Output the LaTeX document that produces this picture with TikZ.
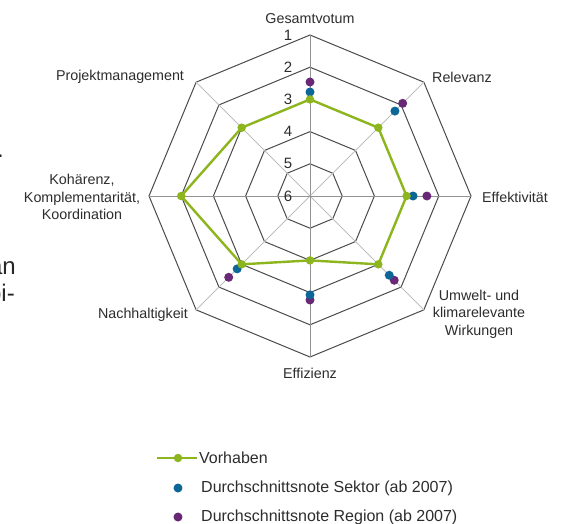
\documentclass[tikz,border=0pt]{standalone}
\usepackage{fontspec}
\setmainfont{Liberation Sans}
\definecolor{vorhaben}{RGB}{141,182,30}
\definecolor{sektor}{RGB}{12,102,152}
\definecolor{region}{RGB}{104,40,118}
\definecolor{gitter}{RGB}{75,75,75}
\definecolor{schrift}{RGB}{45,45,45}
\tikzset{
  ring/.style={draw=gitter, line width=1pt, line join=miter},
  achse/.style={draw=gray!85, line width=0.9pt},
  diagachse/.style={draw=gray!50, line width=0.8pt},
  achsentext/.style={text=schrift, font=\fontsize{14.3}{17.5}\selectfont, align=center, inner sep=0pt},
  stufe/.style={text=schrift, font=\fontsize{15}{17}\selectfont, inner sep=0pt},
  legtext/.style={text=schrift, font=\fontsize{16}{18}\selectfont, anchor=west, inner sep=0pt},
  randtext/.style={text=black!85, font=\fontsize{24}{28}\selectfont, anchor=east, inner sep=0pt},
  vlinie/.style={draw=vorhaben, line width=2.4pt, line join=round},
  vpunkt/.style={circle, fill=vorhaben, inner sep=0pt, minimum size=8.5pt},
  spunkt/.style={circle, fill=sektor, inner sep=0pt, minimum size=9pt},
  rpunkt/.style={circle, fill=region, inner sep=0pt, minimum size=9pt},
}

\begin{document}
\begin{tikzpicture}[x=1pt, y=1pt]
\useasboundingbox[fill=white] (-310,-327) rectangle (251,196);

\coordinate (m) at (0,0);
\foreach \n/\w in {1/90, 2/45, 3/0, 4/-45, 5/-90, 6/-135, 7/180, 8/135}
  \coordinate (a\n) at (\w:161);

\foreach \k in {1,...,5}{
  \pgfmathsetmacro\rad{(6-\k)*32.2}
  \draw[ring] (90:\rad) \foreach \w in {45,0,...,-225}{ -- (\w:\rad)} -- cycle;
}
\foreach \n in {2,4,6,8}
  \draw[diagachse] (m) -- (a\n);
\foreach \n in {1,3,5,7}
  \draw[achse] (m) -- (a\n);

\foreach \k in {1,...,6}
  \node[stufe] (s\k) at (-22,{(6-\k)*32.2}) {\k};

\node[achsentext] (gesamt) at (0,177) {Gesamtvotum};
\node[achsentext] (relevanz) at (152,119) {Relevanz};
\node[achsentext] (effekt) at (205,-1) {Effektivität};
\node[achsentext] (umwelt) at (169,-118) {Umwelt- und\\klimarelevante\\Wirkungen};
\node[achsentext] (effizienz) at (0,-177) {Effizienz};
\node[achsentext] (nachhalt) at (-167,-119) {Nachhaltigkeit};
\node[achsentext] (kohaerenz) at (-228,-1) {Kohärenz,\\Komplementarität,\\Koordination};
\node[achsentext] (projekt) at (-190,119) {Projektmanagement};

\foreach \n/\w/\v in {1/90/3, 2/45/3, 3/0/3, 4/-45/3, 5/-90/4, 6/-135/3, 7/180/2, 8/135/3}
  \coordinate (v\n) at (\w:{(6-\v)*32.2});
\foreach \n/\w/\v in {1/90/2.46, 2/45/1.93, 3/0/2.37, 4/-45/2.3, 5/-90/2.77, 6/-135/2.43}
  \node[rpunkt] (r\n) at (\w:{(6-\v)*32.2}) {};
\foreach \n/\w/\v in {1/90/2.77, 2/45/2.27, 3/0/2.8, 4/-45/2.52, 5/-90/2.93, 6/-135/2.8}
  \node[spunkt] (k\n) at (\w:{(6-\v)*32.2}) {};
\draw[vlinie] (v1) -- (v2) -- (v3) -- (v4) -- (v5) -- (v6) -- (v7) -- (v8) -- cycle;
\foreach \n in {1,...,8}
  \node[vpunkt] at (v\n) {};

\coordinate (l1) at (-153,-262);
\coordinate (l2) at (-113,-262);
\draw[vlinie] (l1) -- (l2);
\node[vpunkt] (lv) at (-132,-262) {};
\node[legtext] (tv) at (-111,-262) {Vorhaben};
\node[spunkt] (ls) at (-132,-292) {};
\node[legtext] (ts) at (-109,-292) {Durchschnittsnote Sektor (ab 2007)};
\node[rpunkt] (lr) at (-132,-321) {};
\node[legtext] (tr) at (-109,-321) {Durchschnittsnote Region (ab 2007)};

\node[randtext] (f1) at (-306,40) {.};
\node[randtext] (f2) at (-294,-72) {an};
\node[randtext] (f3) at (-295,-97) {bi-};
\end{tikzpicture}
\end{document}
